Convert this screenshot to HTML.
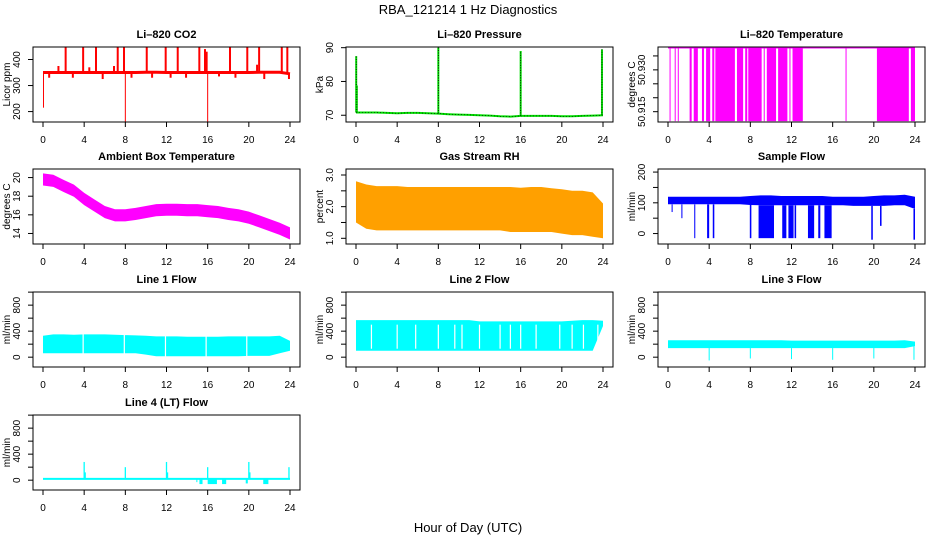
<!DOCTYPE html>
<html><head><meta charset="utf-8"><title>RBA_121214 1 Hz Diagnostics</title>
<style>
html,body{margin:0;padding:0;background:#fff;}
svg{display:block;font-family:"Liberation Sans",Arial,sans-serif;}
</style></head>
<body>
<svg id="chart" xmlns="http://www.w3.org/2000/svg" width="936" height="540" viewBox="0 0 936 540">
<rect width="936" height="540" fill="#fff"/>
<text x="468" y="14" font-size="13" text-anchor="middle">RBA_121214  1 Hz Diagnostics</text>
<text x="468" y="532" font-size="13" text-anchor="middle">Hour of Day (UTC)</text>
</svg>
<script>
// ---------- data ----------
const hours = [0,1,2,3,4,5,6,7,8,9,10,11,12,13,14,15,16,17,18,19,20,21,22,23,24];
const xTicks = [0,4,8,12,16,20,24];

const co2Base = [350,350,350,350,350,350,350,350,350,350,351,351,350,350,350,350,350,350,350,350,350,351,351,351,345];
const co2SpikeHours = [2.2,3.9,5.15,7.26,7.87,10.08,11.92,13.09,15.19,15.74,18.17,19.85,21.0,23.2,23.74,1.5,4.5,6.9,15.9,20.8];
const co2SpikeValues = [448,448,448,448,448,448,448,448,448,440,448,448,448,448,450,375,370,375,430,380];
const co2DipHours = [0.05,8.0,16.0,0.6,2.9,5.8,8.6,10.6,12.4,13.9,17.1,18.7,21.5,23.9];
const co2DipValues = [215,160,160,330,330,325,330,330,330,330,335,330,325,325];

const presBase = [70.8,70.8,70.8,70.7,70.6,70.7,70.7,70.6,70.5,70.3,70.2,70.1,70.0,69.9,69.7,69.6,69.8,69.8,69.8,69.8,69.7,69.7,69.8,69.9,70.0];
const presSpikeHours = [0.02,0.08,8.0,16.0,23.9];
const presSpikeValues = [87.5,78.8,90.0,89.0,89.5];

const tempHigh = 50.938;
const tempLow = 50.9116;
const tempBlockStart = [2.1,2.5,3.3,3.7,4.3,4.6,6.7,7.5,7.8,9.3,9.6,10.7,11.8,12.1,20.3,23.6];
const tempBlockEnd   = [2.3,2.9,3.5,4.1,4.5,6.5,7.3,7.7,9.1,9.4,10.5,11.6,11.9,13.1,23.4,24.0];
const tempLineHours = [0.2,0.7,1.0,17.3];

const ambMid = [19.8,19.65,19.1,18.6,17.7,17.0,16.3,15.95,15.95,16.1,16.3,16.5,16.55,16.55,16.5,16.5,16.4,16.3,16.1,15.95,15.7,15.3,14.9,14.5,14.0];
const ambHalf = [0.65,0.65,0.65,0.65,0.65,0.65,0.65,0.65,0.65,0.65,0.65,0.65,0.65,0.65,0.65,0.65,0.65,0.65,0.65,0.65,0.65,0.65,0.65,0.65,0.65];

const rhHigh = [2.8,2.7,2.65,2.65,2.65,2.62,2.62,2.62,2.62,2.62,2.62,2.62,2.62,2.62,2.62,2.62,2.6,2.62,2.62,2.58,2.55,2.5,2.5,2.45,2.1];
const rhLow  = [1.5,1.3,1.25,1.25,1.25,1.25,1.25,1.25,1.25,1.25,1.25,1.25,1.25,1.25,1.25,1.2,1.2,1.2,1.2,1.2,1.15,1.1,1.1,1.05,1.0];

const sfHigh = [120,120,120,120,120,120,120,120,122,124,124,122,122,122,122,122,120,120,120,120,122,124,124,126,120];
const sfLow  = [95,95,95,95,95,95,95,95,93,92,92,92,92,92,92,92,92,92,90,90,90,90,92,92,80];
const sfDropStart = [2.55,3.8,4.35,7.95,8.8,11.1,11.7,12.3,13.6,14.6,15.2,19.75,23.85,0.35,1.3,20.6];
const sfDropEnd   = [2.65,4.0,4.5,8.1,10.3,11.5,12.2,12.45,14.2,14.8,15.9,19.9,24.0,0.45,1.4,20.75];
const sfDropMin   = [-15,-15,-15,-15,-15,-15,-15,-15,-15,-15,-15,-20,-20,70,50,25];

const l1High = [330,350,350,345,350,350,350,345,340,335,330,320,320,320,315,315,315,315,320,320,320,320,320,330,250];
const l1Low  = [60,60,60,60,60,60,60,60,60,60,40,15,15,15,15,15,15,15,15,15,20,20,20,60,100];
const l1Gaps = [3.9,7.9,11.9,15.85,19.8];

const l2High = [570,570,570,570,570,570,570,570,570,570,570,570,550,550,550,550,550,550,550,550,550,560,570,570,560];
const l2Low  = [100,100,100,100,100,100,100,100,100,100,100,100,100,100,100,100,100,100,100,100,100,100,100,100,480];
const l2Gaps = [1.5,4.0,5.8,8.0,9.6,10.3,12.0,14.0,15.0,16.0,17.5,19.8,21.0,22.1,23.5];

const l3High = [260,260,260,260,260,260,260,260,260,260,260,260,255,255,255,255,255,255,255,255,255,255,255,260,240];
const l3Low  = [140,140,140,140,140,140,140,140,140,140,140,140,140,140,140,140,140,140,140,140,140,140,140,140,170];
const l3DipHours = [4.0,8.0,12.0,16.0,20.0,23.9];
const l3DipValues = [-50,-20,-30,-40,-20,-40];

const l4Base = [20,20,20,20,20,20,20,20,20,20,20,20,20,20,20,20,20,20,20,20,20,20,20,20,20];
const l4SpikeHours = [4.0,8.0,12.0,16.0,20.0,23.9,4.1,12.1,20.1];
const l4SpikeValues = [280,200,280,200,280,200,120,120,120];
const l4DipStart = [15.2,16.0,17.4,19.7,21.4,14.9];
const l4DipEnd   = [15.5,16.9,17.8,19.9,21.9,15.0];
const l4DipMin   = [-60,-60,-60,-50,-60,-30];

// ---------- helpers ----------
const NS = "http://www.w3.org/2000/svg";
const svg = document.getElementById('chart');
function mk(tag, attrs, parent){
  const e = document.createElementNS(NS, tag);
  for (const k in attrs) e.setAttribute(k, attrs[k]);
  parent.appendChild(e);
  return e;
}
function txt(parent, x, y, s, attrs){
  const t = mk('text', Object.assign({x:x, y:y}, attrs||{}), parent);
  t.textContent = s;
  return t;
}
const COLS = [33,346,658], ROWS = [47,169,292,415], PW = 267, PH = 75;
let clipId = 0;
function panel(id, col, row, title, ylab, ymin, ymax, ticks, labelVals, labelTexts){
  const L = COLS[col], T = ROWS[row];
  const g = mk('g', {}, svg);
  
  
  const x = h => L + 10 + h * (PW - 20) / 24;
  const y = v => T + PH - (v - ymin) / (ymax - ymin) * PH;
  const cid = 'clip' + (clipId++);
  const cp = mk('clipPath', {id: cid}, g);
  mk('rect', {x: L, y: T, width: PW, height: PH}, cp);
  const plot = mk('g', {'clip-path': 'url(#' + cid + ')'}, g);
  
  
  const box = mk('rect', {x: L, y: T, width: PW, height: PH, fill: 'none', stroke: '#000', 'stroke-width': 1}, g);
  
  
  const tt = txt(g, L + PW / 2, T - 9, title, {'font-size': 11, 'font-weight': 'bold', 'text-anchor': 'middle'});
  
  
  const xa = mk('g', {}, g);
  
  
  xTicks.forEach(h => {
    mk('line', {x1: x(h), x2: x(h), y1: T + PH, y2: T + PH + 5, stroke: '#000'}, xa);
    const t = txt(xa, x(h), T + PH + 21, String(h), {'font-size': 10, 'text-anchor': 'middle'});
    
    
  });
  const ya = mk('g', {}, g);
  
  
  ticks.forEach(v => {
    mk('line', {x1: L - 5, x2: L, y1: y(v), y2: y(v), stroke: '#000'}, ya);
  });
  labelVals.forEach((v, i) => {
    const yy = y(v), xx = L - 13;
    const t = txt(ya, xx, yy, labelTexts[i], {'font-size': 10, 'text-anchor': 'middle', transform: 'rotate(-90 ' + xx + ' ' + yy + ')'});
    
    
  });
  const yx = L - 23, yy = T + PH / 2;
  const yl = txt(g, yx, yy, ylab, {'font-size': 10, 'text-anchor': 'middle', transform: 'rotate(-90 ' + yx + ' ' + yy + ')'});
  
  
  return {plot, x, y};
}
function band(p, hi, lo, fill, name){
  let d = '';
  hours.forEach((h, i) => { d += (i ? 'L' : 'M') + p.x(h).toFixed(1) + ' ' + p.y(hi[i]).toFixed(1); });
  for (let i = hours.length - 1; i >= 0; i--) d += 'L' + p.x(hours[i]).toFixed(1) + ' ' + p.y(lo[i]).toFixed(1);
  const e = mk('path', {d: d + 'Z', fill: fill, stroke: 'none'}, p.plot);
  
  
  return e;
}
function vline(p, h, v1, v2, color, w, name, dash){
  const a = {x1: p.x(h), x2: p.x(h), y1: p.y(v1), y2: p.y(v2), stroke: color, 'stroke-width': w || 1};
  if (dash) a['stroke-dasharray'] = dash;
  const e = mk('line', a, p.plot);
  
  
  return e;
}
function rect(p, h1, h2, v1, v2, color, name){
  const e = mk('rect', {x: p.x(h1), y: p.y(Math.max(v1, v2)), width: Math.max(1, p.x(h2) - p.x(h1)), height: Math.abs(p.y(v1) - p.y(v2)), fill: color}, p.plot);
  
  
  return e;
}
function lineSeries(p, vals, off, color, w, name){
  let d = '';
  hours.forEach((h, i) => { d += (i ? 'L' : 'M') + p.x(h).toFixed(1) + ' ' + p.y(vals[i] + off).toFixed(1); });
  const e = mk('path', {d: d, fill: 'none', stroke: color, 'stroke-width': w}, p.plot);
  
  
  return e;
}
function baseAt(arr, h){ return arr[Math.min(24, Math.round(h))]; }

// ---------- CO2 ----------
(function(){
  const p = panel('co2', 0, 0, 'Li\u2013820 CO2', 'Licor ppm', 160, 448, [200,300,400], [200,300,400], ['200','300','400']);
  lineSeries(p, co2Base, 0, '#ff0000', 3, 'co2-line');
  co2SpikeHours.forEach((h, i) => vline(p, h, baseAt(co2Base, h), co2SpikeValues[i], '#ff0000', 2, 'co2-spike'));
  co2DipHours.forEach((h, i) => vline(p, h, baseAt(co2Base, h), co2DipValues[i], '#ff0000', i < 3 ? 1 : 2, 'co2-dip'));
})();

// ---------- Pressure ----------
(function(){
  const p = panel('pressure', 1, 0, 'Li\u2013820 Pressure', 'kPa', 68.0, 90.2, [70,80,90], [70,80,90], ['70','80','90']);
  lineSeries(p, presBase, 0, '#00dd00', 2, 'pressure-line');
  lineSeries(p, presBase, 0, '#000', 0.6, 'pressure-line-dots').setAttribute('stroke-dasharray', '1 2');
  presSpikeHours.forEach((h, i) => {
    vline(p, h, baseAt(presBase, h), presSpikeValues[i], '#00dd00', 2, 'pressure-spike');
    vline(p, h, baseAt(presBase, h), presSpikeValues[i], '#000', 0.8, 'pressure-spike-dots', '1 1.5');
  });
})();

// ---------- Li-820 Temperature ----------
(function(){
  const p = panel('li820-temp', 2, 0, 'Li\u2013820 Temperature', 'degrees C', 50.9113, 50.9382,
    [50.915,50.920,50.925,50.930,50.935], [50.915,50.930], ['50.915','50.930']);
  const e = mk('line', {x1: p.x(0), x2: p.x(24), y1: p.y(tempHigh), y2: p.y(tempHigh), stroke: '#ff00ff', 'stroke-width': 2}, p.plot);
  
  
  tempBlockStart.forEach((s, i) => rect(p, s, tempBlockEnd[i], tempLow, tempHigh, '#ff00ff', 'temp-toggle-block'));
  tempLineHours.forEach(h => vline(p, h, tempLow, tempHigh, '#ff00ff', 1, 'temp-toggle-line'));
})();

// ---------- Ambient ----------
(function(){
  const p = panel('ambient-temp', 0, 1, 'Ambient Box Temperature', 'degrees C', 12.87, 20.92, [14,16,18,20], [14,16,18,20], ['14','16','18','20']);
  band(p, ambMid.map((v, i) => v + ambHalf[i]), ambMid.map((v, i) => v - ambHalf[i]), '#ff00ff', 'ambient-band');
})();

// ---------- RH ----------
(function(){
  const p = panel('gas-rh', 1, 1, 'Gas Stream RH', 'percent', 0.82, 3.19, [1,1.5,2,2.5,3], [1,2,3], ['1.0','2.0','3.0']);
  band(p, rhHigh, rhLow, '#ffa000', 'rh-band');
})();

// ---------- Sample flow ----------
(function(){
  const p = panel('sample-flow', 2, 1, 'Sample Flow', 'ml/min', -34, 210, [0,50,100,150,200], [0,100,200], ['0','100','200']);
  band(p, sfHigh, sfLow, '#0000ff', 'sample-flow-band');
  sfDropStart.forEach((s, i) => rect(p, s, sfDropEnd[i], sfDropMin[i], baseAt(sfLow, s), '#0000ff', 'sample-flow-dropout'));
})();

// ---------- Line flows ----------
function flowPanel(id, col, row, title){
  return panel(id, col, row, title, 'ml/min', -151, 1002, [0,200,400,600,800,1000], [0,400,800], ['0','400','800']);
}
(function(){
  const p = flowPanel('line1-flow', 0, 2, 'Line 1 Flow');
  band(p, l1High, l1Low, '#00ffff', 'line1-band');
  l1Gaps.forEach(h => vline(p, h, -100, 900, '#fff', 1.2, 'line1-gap'));
})();
(function(){
  const p = flowPanel('line2-flow', 1, 2, 'Line 2 Flow');
  band(p, l2High, l2Low, '#00ffff', 'line2-band');
  l2Gaps.forEach(h => vline(p, h, 130, 500, '#fff', 1.2, 'line2-gap'));
})();
(function(){
  const p = flowPanel('line3-flow', 2, 2, 'Line 3 Flow');
  band(p, l3High, l3Low, '#00ffff', 'line3-band');
  l3DipHours.forEach((h, i) => vline(p, h, baseAt(l3Low, h), l3DipValues[i], '#00ffff', 1, 'line3-dip'));
})();
(function(){
  const p = flowPanel('line4-flow', 0, 3, 'Line 4 (LT) Flow');
  band(p, l4Base.map(v => v + 15), l4Base.map(v => v - 15), '#00ffff', 'line4-band');
  l4SpikeHours.forEach((h, i) => vline(p, h, baseAt(l4Base, h), l4SpikeValues[i], '#00ffff', 1.3, 'line4-spike'));
  l4DipStart.forEach((s, i) => rect(p, s, l4DipEnd[i], l4DipMin[i], baseAt(l4Base, s), '#00ffff', 'line4-dip'));
})();
</script>
</body></html>
